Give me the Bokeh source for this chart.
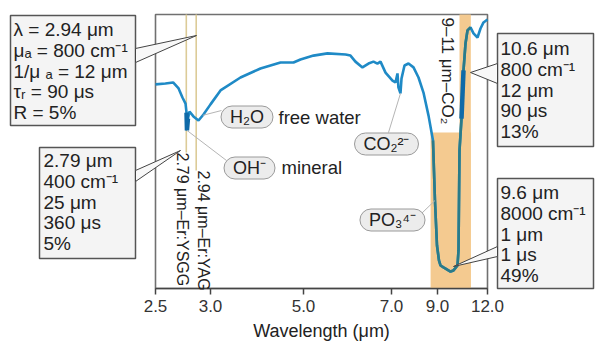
import numpy as np
from bokeh.plotting import figure
from bokeh.models import (Label, BoxAnnotation, PolyAnnotation, FixedTicker, Range1d,
                          LinearAxis)
from bokeh.embed import file_html
from bokeh.resources import INLINE

# ---------------- data ----------------
tick_wl = [2.5, 3.0, 5.0, 7.0, 9.0, 12.0]
tick_labels = ["2.5", "3.0", "5.0", "7.0", "9.0", "12.0"]

wavelength = [2.50, 2.59, 2.66, 2.71, 2.745, 2.773, 2.782, 2.786, 2.795, 2.809,
              2.845, 2.891, 2.936, 3.00, 3.215, 3.645, 4.075, 4.29, 4.505, 4.785,
              4.935, 5.227, 5.545, 5.955, 6.068, 6.18, 6.34, 6.477, 6.59, 6.68,
              6.75, 6.864, 7.043, 7.174, 7.26, 7.30, 7.39, 7.435, 7.565, 7.74,
              7.957, 8.174, 8.39, 8.61, 8.804, 8.89, 8.978, 9.09, 9.18, 9.36,
              9.78, 9.96, 10.2, 10.26, 10.32, 10.44, 10.56, 10.68, 10.8, 10.98,
              11.16, 11.4, 11.58, 11.76, 12.0]
transmission = [74.5, 74.8, 75.2, 73.0, 69.7, 67.5, 64.2, 57.7, 62.0, 64.6,
                 62.8, 61.3, 63.5, 67.2, 72.3, 77.0, 80.3, 81.4, 82.5, 82.5,
                 83.6, 85.0, 85.8, 85.4, 85.0, 82.8, 80.7, 82.1, 82.8, 82.1,
                 82.8, 78.8, 75.9, 75.2, 78.5, 73.4, 71.2, 76.6, 81.4, 82.1,
                 80.7, 77.0, 71.5, 63.1, 54.0, 32.1, 15.7, 10.2, 8.4, 7.7,
                 6.2, 6.6, 8.4, 13.9, 50.4, 62.0, 79.6, 89.4, 94.2, 95.3,
                 93.1, 91.6, 94.9, 97.1, 98.2]

laser_wl = [2.78, 2.87]
laser_names = ["2.79 μm–Er:YSGG", "2.94 μm–Er:YAG"]
co2_band = [8.7, 11.0]
co2_band_top = 56.9
co2_line = [10.32, 11.0]
oh_mark = [2.775, 2.80]
co2_mark = [10.40, 10.60]
band_name = "9–11 μm–CO₂"

box_a = ["λ = 2.94 μm", "μₐ = 800 cm⁻¹", "1/μ ₐ = 12 μm", "τᵣ = 90 μs", "R = 5%"]
box_b = ["2.79 μm", "400 cm⁻¹", "25 μm", "360 μs", "5%"]
box_c = ["10.6 μm", "800 cm⁻¹", "12 μm", "90 μs", "13%"]
box_d = ["9.6 μm", "8000 cm⁻¹", "1 μm", "1 μs", "49%"]

pill_texts = ["H₂O", "OH⁻", "CO₂²⁻", "PO₃⁴⁻"]
pill_notes = ["free water", "mineral"]
leader_wl = [2.93, 2.786, 7.39, 8.89]

# ---------------- layout ----------------
W, H = 600, 350
FL, FR, FT, FB = 155, 487, 14, 288        # plot-area box (pixels)
FW, FH = FR - FL, FB - FT
TICK_U = [0, 55, 148, 236, 282, 332]      # schematic (non-linear) axis positions

def U(wl):
    return np.interp(wl, tick_wl, TICK_U)

def SX(px):
    return px - FL

def SY(py):
    return (FB - py) * 100.0 / FH

FONT = "Liberation Sans"
TXT = "#222222"
BLUE = "#1f8ac6"
TEAL = "#2b7b88"
DARK = "#0f6aa8"

p = figure(width=W, height=H, output_backend="svg", toolbar_location=None, title=None,
           x_range=Range1d(SX(0), SX(W)), y_range=Range1d(SY(H), SY(0)),
           x_axis_location=None, y_axis_location=None,
           min_border_left=0, min_border_right=0, min_border_top=0, min_border_bottom=0)
p.xgrid.visible = False
p.ygrid.visible = False
p.outline_line_color = None
p.background_fill_color = "white"
p.border_fill_color = "white"

ax = LinearAxis(fixed_location=0, bounds=(0, FW))
ax.ticker = FixedTicker(ticks=TICK_U)
ax.major_label_overrides = {t: l for t, l in zip(TICK_U, tick_labels)}
ax.axis_label = "Wavelength (μm)"
ax.axis_label_text_font = FONT
ax.axis_label_text_font_size = "18px"
ax.axis_label_text_font_style = "normal"
ax.axis_label_text_color = TXT
ax.axis_label_standoff = 6
ax.major_label_text_font = FONT
ax.major_label_text_font_size = "17px"
ax.major_label_text_color = "#333333"
ax.major_label_standoff = 5
ax.axis_line_color = "#444444"
ax.axis_line_width = 1.5
ax.major_tick_line_color = "#444444"
ax.major_tick_line_width = 1.5
ax.major_tick_out = 6
ax.major_tick_in = 0
ax.minor_tick_line_color = None
p.add_layout(ax, "below")

# plot-area frame
p.add_layout(BoxAnnotation(left=0, right=FW, bottom=0, top=100, fill_color=None,
                           line_color="#707070", line_alpha=1, line_width=1.6,
                           level="underlay"))

# CO2 band
BAND = "#f4ca90"
p.quad(left=[U(co2_band[0])], right=[U(co2_band[1])], bottom=[0], top=[co2_band_top],
       fill_color=BAND, line_color=None)
p.quad(left=[U(co2_line[0])], right=[U(co2_line[1])], bottom=[0], top=[100],
       fill_color=BAND, line_color=None)

# laser lines
line_bottom = [SY(152), SY(170)]
p.segment(x0=list(U(laser_wl)), y0=[100, 100], x1=list(U(laser_wl)), y1=line_bottom,
          line_color="#dccb98", line_width=1.6)

# curve
wl = np.array(wavelength)
tr = np.array(transmission)
xu = U(wl)
p.line(xu, tr, line_color=BLUE, line_width=2.6)
mask = ((wl >= co2_band[0]) & (wl <= co2_band[1]) & (tr <= co2_band_top)) | \
       ((wl >= co2_line[0]) & (wl <= co2_line[1]))
p.line(xu, np.where(mask, tr, np.nan), line_color=TEAL, line_width=2.6)
for lo, hi in (oh_mark, co2_mark):
    sel = (wl >= lo) & (wl <= hi)
    p.line(xu[sel], tr[sel], line_color=DARK, line_width=4.5)

# leaders from pills to curve
leader_start = [(221, 110), (226, 160), (388, 132), (421, 213)]
lx0 = [SX(a) for a, b in leader_start]
ly0 = [SY(b) for a, b in leader_start]
lx1 = list(U(leader_wl))
ly1 = list(np.interp(leader_wl, wavelength, transmission))
p.segment(x0=lx0, y0=ly0, x1=lx1, y1=ly1, line_color="#b5b5b5", line_width=1)

# pills
pill_pos = [(246.5, 116.5), (249, 167.5), (386, 143.5), (392, 219.5)]
for t, (cx, cy) in zip(pill_texts, pill_pos):
    p.add_layout(Label(x=SX(cx), y=SY(cy), text=t, text_font=FONT, text_font_size="18px",
                       text_color=TXT, text_align="center", text_baseline="middle",
                       background_fill_color="#ececec", border_line_color="#9a9a9a",
                       border_line_width=1, border_radius=11,
                       padding=dict(left=9, right=9, top=1, bottom=1)))
note_pos = [(278, 117), (281, 167)]
for t, (cx, cy) in zip(pill_notes, note_pos):
    p.add_layout(Label(x=SX(cx), y=SY(cy), text=t, text_font=FONT, text_font_size="18.5px",
                       text_color=TXT, text_align="left", text_baseline="middle"))

# rotated labels
rot = [(laser_names[0], 182, 152, "16px"), (laser_names[1], 203, 170, "16px"),
       (band_name, 447, 17, "17px")]
for t, cx, cy, fs in rot:
    p.add_layout(Label(x=SX(cx), y=SY(cy), text=t, text_font=FONT, text_font_size=fs,
                       text_color=TXT, text_align="left", text_baseline="middle",
                       angle=-np.pi / 2))

# callout boxes
boxes = [(box_a, (10, 15, 135, 125), 13, 29, [(135, 48), (196, 35), (135, 62)]),
         (box_b, (39, 147, 135, 258), 43, 160, [(135, 170), (180, 150), (135, 181)]),
         (box_c, (497, 33, 593, 146), 500, 48, [(497, 63), (470, 72), (497, 83)]),
         (box_d, (497, 178, 593, 288), 500, 192, [(497, 246), (453, 266), (497, 256)])]
for lines, (l, t, r, b), tx, c0, wedge in boxes:
    p.add_layout(BoxAnnotation(left=SX(l), right=SX(r), top=SY(t), bottom=SY(b),
                               fill_color="#f4f4f4", fill_alpha=1,
                               line_color="#555555", line_alpha=1, line_width=1.5))
    p.add_layout(PolyAnnotation(xs=[SX(a) for a, _ in wedge], ys=[SY(c) for _, c in wedge],
                                fill_color="#f8f8f8", fill_alpha=1,
                                line_color="#444444", line_alpha=1, line_width=1))
    for i, s in enumerate(lines):
        p.add_layout(Label(x=SX(tx), y=SY(c0 + i * 20.8), text=s, text_font=FONT,
                           text_font_size="19px", text_color=TXT,
                           text_align="left", text_baseline="middle"))

open("out.html", "w").write(file_html(p, INLINE))
